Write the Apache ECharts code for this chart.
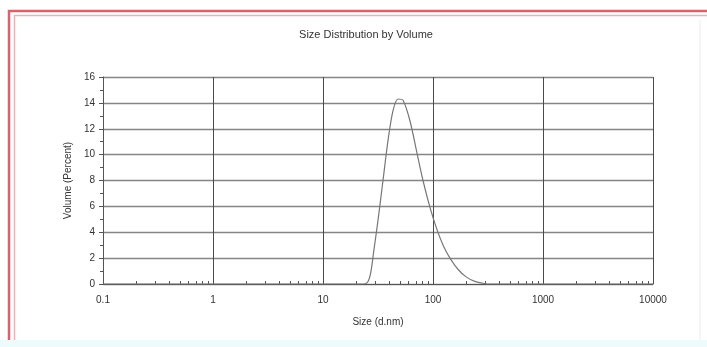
<!DOCTYPE html>
<html>
<head>
<meta charset="utf-8">
<script src="https://cdn.jsdelivr.net/npm/echarts@6/dist/echarts.min.js"></script>
<style>
  html, body { margin: 0; padding: 0; background: #fff; }
  #chart { width: 707px; height: 347px; }
</style>
</head>
<body>
<div id="chart"></div>
<script>
// size in d.nm, volume in percent
var sizes = [0.1, 23.5, 25.5, 27.2, 29.0, 31.6, 35.1, 39.0, 43.3, 48.1, 53.4, 61.8, 71.6, 81.1, 94.0, 108.7, 125, 145, 170, 200, 240, 290, 330, 10000];
var volume = [0, 0, 0.15, 0.9, 2.6, 4.9, 8.0, 11.1, 13.4, 14.3, 14.2, 12.6, 10.1, 8.0, 5.9, 4.2, 2.9, 1.9, 1.1, 0.55, 0.2, 0.04, 0, 0];
var xLabels = ['0.1', '1', '10', '100', '1000', '10000'];
var yTicks = [0, 2, 4, 6, 8, 10, 12, 14, 16];

// minor ticks of the log axis: 2..9 inside each decade
var minorX = [];
for (var d = -1; d < 4; d++) {
  for (var k = 2; k < 10; k++) {
    minorX.push(+(k * Math.pow(10, d)).toPrecision(3));
  }
}

var chart = echarts.init(document.getElementById('chart'));
var txt = '#333';
var font = 'Liberation Sans, Arial, sans-serif';

var option = {
  animation: false,
  backgroundColor: '#fff',
  grid: { left: 103, right: 54, top: 77, bottom: 63 },
  graphic: [
    // outer frame (red, double)
    { type: 'polyline', shape: { points: [[9, 345], [9, 11], [720, 11]] }, style: { fill: null, stroke: '#d9626c', lineWidth: 2.5 } },
    { type: 'polyline', shape: { points: [[14.5, 345], [14.5, 15.5], [720, 15.5]] }, style: { fill: null, stroke: '#e3b4b8', lineWidth: 1.5 } },
    { type: 'line', shape: { x1: 700, y1: 20, x2: 700, y2: 340 }, style: { stroke: '#ececec', lineWidth: 1 } },
    { type: 'rect', shape: { x: 0, y: 340, width: 707, height: 7 }, style: { fill: '#eefbfc' } },
    { type: 'text', x: 366, y: 35, style: { text: 'Size Distribution by Volume', font: '11px ' + font, fill: txt, textAlign: 'center', textVerticalAlign: 'middle' } }
  ],
  xAxis: [{
    type: 'log',
    logBase: 10,
    min: 0.1,
    max: 10000,
    name: 'Size (d.nm)',
    nameLocation: 'middle',
    nameGap: 33,
    nameTextStyle: { color: txt, fontSize: 10, fontFamily: font },
    axisLine: { lineStyle: { color: '#555', width: 1 } },
    axisTick: { show: false },
    axisLabel: {
      color: txt, fontSize: 10, fontFamily: font, margin: 11,
      formatter: function (v) {
        var i = Math.round(Math.log10(v)) + 1;
        return xLabels[i];
      }
    },
    splitLine: { show: true, lineStyle: { color: '#4a4a4a', width: 1 } }
  }, {
    type: 'log',
    logBase: 10,
    min: 0.1,
    max: 10000,
    position: 'bottom',
    axisLine: { show: false },
    axisLabel: { show: false },
    splitLine: { show: false },
    axisTick: { show: true, inside: true, length: 3, customValues: minorX, lineStyle: { color: '#555' } }
  }],
  yAxis: {
    type: 'value',
    min: 0,
    max: 16,
    interval: 2,
    name: 'Volume (Percent)',
    nameLocation: 'middle',
    nameGap: 21,
    nameTextStyle: { color: txt, fontSize: 10, fontFamily: font },
    axisLine: { show: true, lineStyle: { color: '#555', width: 1 } },
    axisTick: { show: true, length: 4, lineStyle: { color: '#555' } },
    minorTick: { show: true, splitNumber: 2, length: 3, lineStyle: { color: '#555' } },
    axisLabel: {
      color: txt, fontSize: 10, fontFamily: font, margin: 8,
      formatter: function (v) { return yTicks.indexOf(v) >= 0 ? String(v) : ''; }
    },
    splitLine: { show: true, lineStyle: { color: '#858585', width: 1.3 } }
  },
  series: [{
    type: 'line',
    data: sizes.map(function (s, i) { return [s, volume[i]]; }),
    showSymbol: false,
    smooth: 0.3,
    lineStyle: { color: '#777', width: 1.2 },
    z: 5
  }]
};

chart.setOption(option);
</script>
</body>
</html>
